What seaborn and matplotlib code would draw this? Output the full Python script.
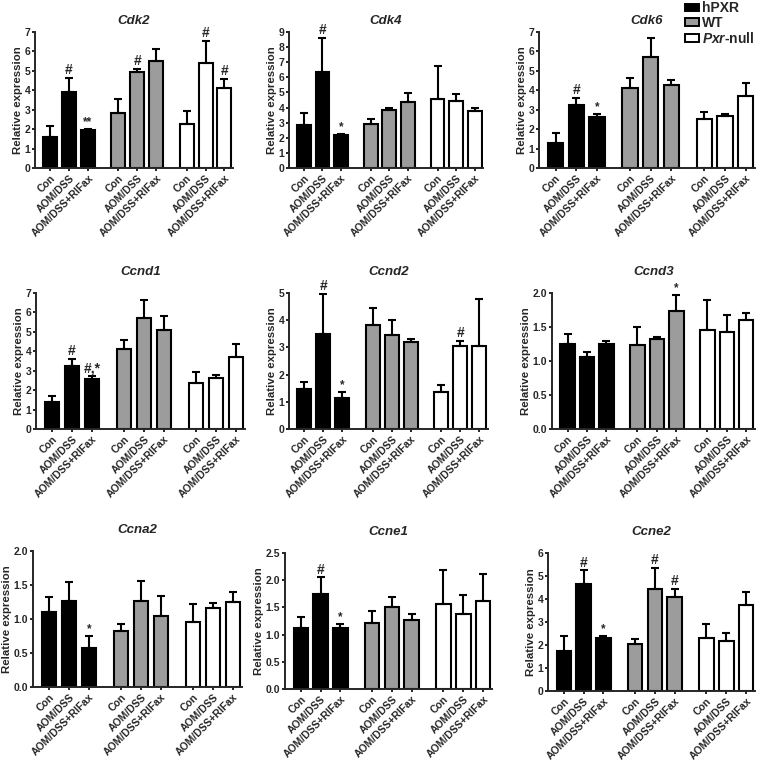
import numpy as np
import pandas as pd
import matplotlib
matplotlib.use("Agg")
import matplotlib.pyplot as plt
import seaborn as sns
from matplotlib.patches import Patch

# ======================
# Data
# ======================
treatments = ["Con", "AOM/DSS", "AOM/DSS+RIFax"]
genotypes = ["hPXR", "WT", "Pxr-null"]
genes = ["Cdk2", "Cdk4", "Cdk6", "Ccnd1", "Ccnd2", "Ccnd3", "Ccna2", "Ccne1", "Ccne2"]

# order: hPXR (Con, AOM/DSS, +RIFax), WT (...), Pxr-null (...)
cdk2_mean = [1.62, 3.92, 1.94, 2.85, 4.93, 5.53, 2.28, 5.41, 4.14]
cdk2_sd = [0.53, 0.73, 0.09, 0.71, 0.17, 0.62, 0.64, 1.13, 0.46]
cdk2_marks = ["", "#", "**", "", "#", "", "", "#", "#"]

cdk4_mean = [2.83, 6.36, 2.20, 2.89, 3.82, 4.37, 4.55, 4.41, 3.75]
cdk4_sd = [0.83, 2.27, 0.07, 0.33, 0.18, 0.62, 2.20, 0.49, 0.25]
cdk4_marks = ["", "#", "*", "", "", "", "", "", ""]

cdk6_mean = [1.29, 3.22, 2.60, 4.12, 5.71, 4.29, 2.50, 2.66, 3.72]
cdk6_sd = [0.51, 0.38, 0.18, 0.51, 0.98, 0.22, 0.40, 0.14, 0.67]
cdk6_marks = ["", "#", "*", "", "", "", "", "", ""]

ccnd1_mean = [1.37, 3.24, 2.56, 4.10, 5.72, 5.09, 2.39, 2.65, 3.69]
ccnd1_sd = [0.34, 0.36, 0.17, 0.47, 0.90, 0.71, 0.56, 0.13, 0.66]
ccnd1_marks = ["", "#", "#,*", "", "", "", "", "", ""]

ccnd2_mean = [1.48, 3.50, 1.15, 3.82, 3.47, 3.20, 1.35, 3.04, 3.06]
ccnd2_sd = [0.26, 1.46, 0.20, 0.63, 0.55, 0.11, 0.25, 0.21, 1.73]
ccnd2_marks = ["", "#", "*", "", "", "", "", "#", ""]

ccnd3_mean = [1.245, 1.06, 1.25, 1.23, 1.32, 1.735, 1.45, 1.43, 1.61]
ccnd3_sd = [0.155, 0.07, 0.05, 0.27, 0.03, 0.235, 0.45, 0.24, 0.10]
ccnd3_marks = ["", "", "", "", "", "*", "", "", ""]

ccna2_mean = [1.11, 1.26, 0.58, 0.82, 1.26, 1.05, 0.95, 1.16, 1.25]
ccna2_sd = [0.21, 0.29, 0.165, 0.10, 0.30, 0.29, 0.27, 0.07, 0.14]
ccna2_marks = ["", "", "*", "", "", "", "", "", ""]

ccne1_mean = [1.13, 1.74, 1.12, 1.22, 1.51, 1.27, 1.57, 1.37, 1.62]
ccne1_sd = [0.19, 0.31, 0.07, 0.21, 0.18, 0.11, 0.61, 0.36, 0.50]
ccne1_marks = ["", "#", "*", "", "", "", "", "", ""]

ccne2_mean = [1.74, 4.67, 2.30, 2.06, 4.42, 4.09, 2.30, 2.16, 3.74]
ccne2_sd = [0.66, 0.58, 0.10, 0.19, 0.94, 0.34, 0.60, 0.38, 0.56]
ccne2_marks = ["", "#", "*", "", "#", "#", "", "", ""]

means = [cdk2_mean, cdk4_mean, cdk6_mean, ccnd1_mean, ccnd2_mean,
         ccnd3_mean, ccna2_mean, ccne1_mean, ccne2_mean]
sds = [cdk2_sd, cdk4_sd, cdk6_sd, ccnd1_sd, ccnd2_sd,
       ccnd3_sd, ccna2_sd, ccne1_sd, ccne2_sd]
marks = [cdk2_marks, cdk4_marks, cdk6_marks, ccnd1_marks, ccnd2_marks,
         ccnd3_marks, ccna2_marks, ccne1_marks, ccne2_marks]

y_max = [7, 9, 7, 7, 5, 2.0, 2.0, 2.5, 6]
y_step = [1, 1, 1, 1, 1, 0.5, 0.5, 0.5, 1]

# ======================
# Style
# ======================
sns.set_style("ticks")
plt.rcParams["font.family"] = ["Liberation Sans", "DejaVu Sans"]
plt.rcParams["font.weight"] = "bold"
plt.rcParams["axes.labelweight"] = "bold"
plt.rcParams["axes.linewidth"] = 1.4
plt.rcParams["mathtext.fontset"] = "custom"
plt.rcParams["mathtext.it"] = "Liberation Sans:italic:bold"
plt.rcParams["mathtext.rm"] = "Liberation Sans:bold"

colors = {"hPXR": "#000000", "WT": "#9c9c9c", "Pxr-null": "#ffffff"}

# bar layout: 3 bars per group, wider gap between groups
group_gap = 1.6
positions = [g * (2 + group_gap) + t for g in range(3) for t in range(3)]

W, H = 760, 763
# axes rectangles in pixels: left, right, y of zero line, y of top
rects = [
    (35, 233, 168, 32), (289, 483, 168, 32), (539, 755, 168, 32),
    (36, 245, 429, 293), (289, 488, 429, 293), (552, 755, 429, 293),
    (33, 242, 687, 551), (285, 492, 689, 553), (548, 755, 691, 553),
]
title_pad = [6, 6, 6, 13, 13, 13, 13, 13, 13]

fig = plt.figure(figsize=(W / 100, H / 100), dpi=100)

for i, gene in enumerate(genes):
    l, r, yb, yt = rects[i]
    ax = fig.add_axes([l / W, 1 - yb / H, (r - l) / W, (yb - yt) / H])

    df = pd.DataFrame({
        "pos": positions,
        "value": means[i],
        "genotype": [g for g in genotypes for _ in treatments],
    })
    sns.barplot(data=df, x="pos", y="value", hue="genotype", hue_order=genotypes,
                palette=colors, native_scale=True, dodge=False, width=0.74,
                errorbar=None, edgecolor="black", linewidth=1.5, legend=False, ax=ax)

    err = np.array(sds[i])
    ax.errorbar(positions, means[i], yerr=[np.zeros_like(err), err], fmt="none",
                ecolor="black", elinewidth=1.5, capsize=3, capthick=1.5, zorder=1)

    for x, m, s, txt in zip(positions, means[i], sds[i], marks[i]):
        if txt:
            ax.annotate(txt, xy=(x, m + s), xytext=(0, 0.5), textcoords="offset points",
                        ha="center", va="bottom", fontsize=10 if "#" in txt else 8.5,
                        fontweight="bold")

    ax.set_xlim(-0.8, positions[-1] + 0.45)
    ax.set_ylim(0, y_max[i])
    ax.set_yticks(np.arange(0, y_max[i] + y_step[i] / 2, y_step[i]))
    if y_step[i] < 1:
        ax.set_yticklabels([f"{v:.1f}" for v in ax.get_yticks()])
    ax.set_xticks(positions)
    ax.set_xticklabels(treatments * 3, rotation=45, ha="right", rotation_mode="anchor")
    ax.tick_params(axis="both", labelsize=7.5, width=1.4, length=2.5, pad=1)
    for lab in ax.get_xticklabels() + ax.get_yticklabels():
        lab.set_fontweight("bold")
    ax.set_xlabel("")
    ax.set_ylabel("Relative expression", fontsize=8.2, labelpad=1)
    ax.set_title(gene, fontsize=9.5, fontweight="bold", style="italic", pad=title_pad[i])
    sns.despine(ax=ax)

handles = [Patch(facecolor=colors[g], edgecolor="black", linewidth=1.4,
                 label=lab) for g, lab in zip(genotypes, ["hPXR", "WT", r"$\it{Pxr}$-null"])]
fig.legend(handles=handles, loc="upper left", bbox_to_anchor=(684 / W, 1.0),
           frameon=False, fontsize=10, handlelength=0.95, handleheight=0.45,
           labelspacing=0.05, handletextpad=0.25, borderpad=0.1, borderaxespad=0)

fig.savefig("out.png", dpi=100)
